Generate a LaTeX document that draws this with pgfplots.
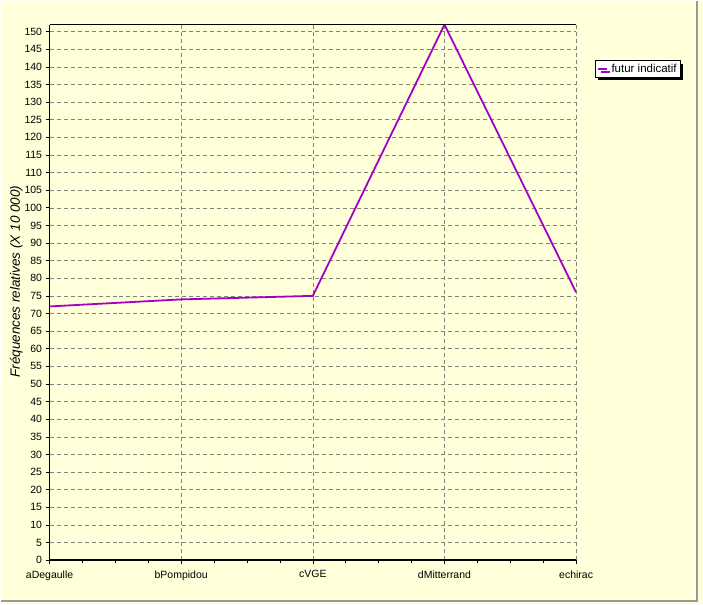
\documentclass[border=0pt]{standalone}
\usepackage{pgfplots}
\pgfplotsset{compat=1.18}
\usepackage{fontspec}
\setmainfont{Liberation Sans}
\usetikzlibrary{shadows}

\definecolor{bgyellow}{RGB}{255,255,218}
\definecolor{linepurple}{RGB}{165,0,200}
\definecolor{gridgray}{RGB}{130,130,120}

\begin{document}
\begin{tikzpicture}
\fill[bgyellow] (0,0) rectangle (703pt,604pt);
\draw[gray!80, line width=1.2pt] (0,3pt) -- (697pt,3pt) -- (697pt,604pt);
\begin{axis}[
    at={(49pt,44pt)}, anchor=south west,
    scale only axis,
    width=527pt, height=536pt,
    xmin=0, xmax=4,
    ymin=0, ymax=152,
    xtick={0,1,2,3,4},
    xticklabels={aDegaulle,bPompidou,cVGE,dMitterrand,echirac},
    minor x tick num=3,
    ytick={0,5,...,150},
    axis x line*=bottom,
    axis y line*=left,
    axis line style={line width=1.6pt, black, -},
    tick align=outside,
    major tick length=4pt,
    minor tick length=3pt,
    tick style={black, line width=0.6pt},
    grid=major,
    major grid style={gridgray, dash pattern=on 4pt off 3pt, line width=0.5pt},
    ticklabel style={font=\fontsize{10.5}{12}\selectfont},
    /pgf/number format/assume math mode=true,
    xticklabel style={yshift=-3pt},
    ylabel={\itshape Fréquences relatives (X 10 000)},
    ylabel style={font=\fontsize{13.5}{15}\selectfont, at={(axis description cs:-0.063,0.52)}, anchor=center},
    legend style={at={(axis description cs:1.036,0.933)}, anchor=north west,
        draw=black, fill=white, font=\fontsize{11.5}{13}\selectfont,
        inner sep=1.5pt, row sep=0pt,
        drop shadow={shadow xshift=3pt, shadow yshift=-3pt, fill=black, opacity=1}},
    legend image code/.code={\draw[#1] (1pt,0pt) -- (10pt,0pt);},
    legend cell align=left,
    axis background/.style={fill=bgyellow},
]
\addplot[linepurple, line width=1.8pt] coordinates {(0,72) (1,74) (2,75) (3,152) (4,76)};
\addlegendentry{\hspace{2pt}futur indicatif}
\draw[black, line width=0.8pt] (rel axis cs:0,1) -- (rel axis cs:1,1);
\end{axis}
\end{tikzpicture}
\end{document}
